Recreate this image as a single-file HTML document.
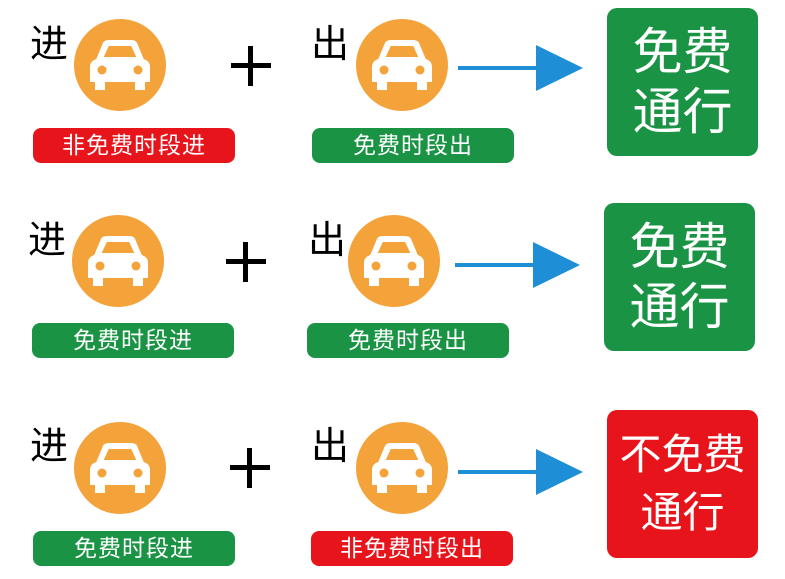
<!DOCTYPE html>
<html><head><meta charset="utf-8"><style>
body{margin:0;width:785px;height:579px;background:#fff;position:relative;overflow:hidden;font-family:"Liberation Sans","Noto Sans CJK SC",sans-serif}
.c{position:absolute;width:92px;height:92px;border-radius:50%;background:#f4a23a}
.c svg{position:absolute;left:0;top:0}
.t{position:absolute;font-size:38px;color:#000;line-height:1}
.l{position:absolute;width:202px;height:35px;border-radius:8px;color:#fff;font-size:23px;line-height:35px;text-align:center;letter-spacing:1px}
.g{background:#1a9444}.r{background:#e8141b}
.p{position:absolute;width:40px;height:40px}
.p:before{content:"";position:absolute;left:0;top:17px;width:40px;height:5px;background:#000}
.p:after{content:"";position:absolute;left:17px;top:0;width:5px;height:40px;background:#000}
.ar{position:absolute;width:125px;height:46px}
.b{position:absolute;width:151px;height:148px;border-radius:10px;color:#fff;text-align:center;display:flex;flex-direction:column;justify-content:center}
</style></head><body>
<svg width="0" height="0" style="position:absolute"><defs>
<g id="car"><g transform="translate(46 0) scale(1.25 1) translate(-46 0)"><path d="M27 40 L32 25 Q33 21 37 21 L55 21 Q59 21 60 25 L65 40 Q70 42 70 48 L70 63 L66 63 L66 71 L58 71 L58 63 L34 63 L34 71 L26 71 L26 63 L22 63 L22 48 Q22 42 27 40 Z M33 38 L59 38 L55 27 L37 27 Z" fill="#fff" fill-rule="evenodd"/></g>
<circle cx="28" cy="51" r="4.5" fill="#f4a23a"/><circle cx="64" cy="51" r="4.5" fill="#f4a23a"/></g>
<g id="arr"><rect x="0" y="21" width="82" height="4" fill="#1e8fd6"/><polygon points="78,0 125,23 78,46" fill="#1e8fd6"/></g>
</defs></svg>

<!-- row1 -->
<div class="t" style="left:30px;top:26px">进</div>
<div class="c" style="left:74px;top:19px"><svg width="92" height="92"><use href="#car"/></svg></div>
<div class="l r" style="left:33px;top:128px">非免费时段进</div>
<div class="p" style="left:231px;top:46px"></div>
<div class="t" style="left:311px;top:26px">出</div>
<div class="c" style="left:356px;top:19px"><svg width="92" height="92"><use href="#car"/></svg></div>
<div class="l g" style="left:312px;top:128px">免费时段出</div>
<svg class="ar" style="left:458px;top:45px" width="125" height="46"><use href="#arr"/></svg>
<div class="b g" style="left:607px;top:8px;font-size:50px;line-height:60px"><div>免费</div><div>通行</div></div>

<!-- row2 -->
<div class="t" style="left:28px;top:222px">进</div>
<div class="c" style="left:72px;top:215px"><svg width="92" height="92"><use href="#car"/></svg></div>
<div class="l g" style="left:32px;top:323px">免费时段进</div>
<div class="p" style="left:226px;top:242px"></div>
<div class="t" style="left:308px;top:222px">出</div>
<div class="c" style="left:348px;top:215px"><svg width="92" height="92"><use href="#car"/></svg></div>
<div class="l g" style="left:307px;top:323px">免费时段出</div>
<svg class="ar" style="left:455px;top:242px" width="125" height="46"><use href="#arr"/></svg>
<div class="b g" style="left:604px;top:203px;font-size:50px;line-height:60px"><div>免费</div><div>通行</div></div>

<!-- row3 -->
<div class="t" style="left:30px;top:428px">进</div>
<div class="c" style="left:74px;top:422px"><svg width="92" height="92"><use href="#car"/></svg></div>
<div class="l g" style="left:33px;top:531px">免费时段进</div>
<div class="p" style="left:230px;top:448px"></div>
<div class="t" style="left:311px;top:428px">出</div>
<div class="c" style="left:356px;top:422px"><svg width="92" height="92"><use href="#car"/></svg></div>
<div class="l r" style="left:311px;top:531px">非免费时段出</div>
<svg class="ar" style="left:458px;top:449px" width="125" height="46"><use href="#arr"/></svg>
<div class="b r" style="left:607px;top:410px;font-size:42px;line-height:58px"><div>不免费</div><div>通行</div></div>
</body></html>
